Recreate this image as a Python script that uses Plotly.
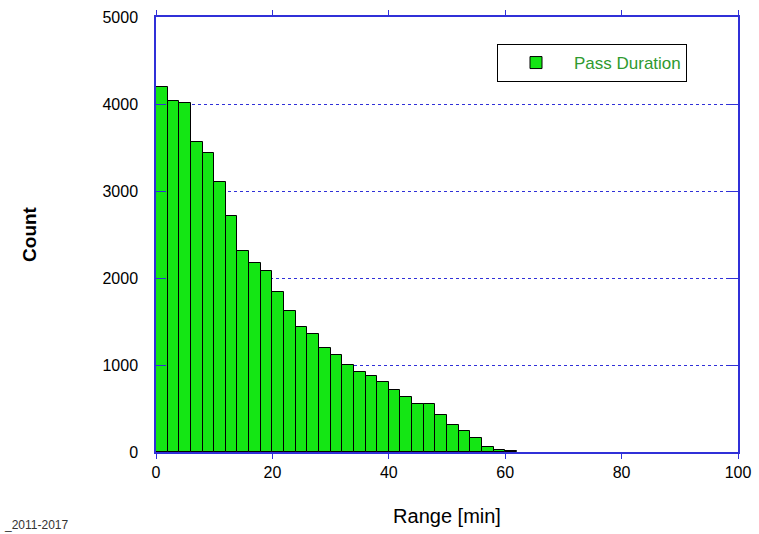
import plotly.graph_objects as go

bin_centers = [1, 3, 5, 7, 9, 11, 13, 15, 17, 19, 21, 23, 25, 27, 29, 31,
               33, 35, 37, 39, 41, 43, 45, 47, 49, 51, 53, 55, 57, 59, 61]
counts = [4195, 4035, 4010, 3565, 3440, 3105, 2715, 2310, 2175, 2080, 1835,
          1615, 1435, 1355, 1200, 1110, 1005, 925, 878, 808, 713, 628, 550,
          550, 422, 310, 245, 157, 62, 23, 8]
series_name = "Pass Duration"
x_ticks = [0, 20, 40, 60, 80, 100]
y_ticks = [0, 1000, 2000, 3000, 4000, 5000]

blue = "#3030d8"
PW, PH = 582, 435

fig = go.Figure()
fig.add_trace(go.Bar(
    x=bin_centers, y=counts, width=2, name=series_name,
    marker=dict(color="#14e614", line=dict(color="black", width=1)),
    showlegend=True,
))

fig.update_layout(
    width=759, height=534,
    margin=dict(l=156, r=21, t=17, b=82, autoexpand=False),
    paper_bgcolor="white", plot_bgcolor="white",
    font=dict(family="Liberation Sans, Arial, sans-serif", color="black"),
    bargap=0,
    showlegend=True,
    legend=dict(
        x=(497 - 156) / PW, y=(452 - 44) / PH, xanchor="left", yanchor="top",
        bgcolor="white", bordercolor="black", borderwidth=1,
        font=dict(size=17, color="#2f9a2f"),
        itemwidth=66,
    ),
    xaxis=dict(
        range=[0, 100], tickvals=x_ticks, ticks="outside", ticklen=5,
        tickcolor=blue, showline=True, linecolor=blue, linewidth=1.5,
        mirror="ticks", showgrid=False, zeroline=False, automargin=False,
        tickfont=dict(size=16),
        title=dict(text="Range [min]", font=dict(size=20), standoff=29),
    ),
    yaxis=dict(
        range=[0, 5000], tickvals=y_ticks, ticks="inside", ticklen=10,
        tickcolor=blue, showline=True, linecolor=blue, linewidth=1.5,
        mirror="ticks", showgrid=True, gridcolor=blue, griddash="dot",
        gridwidth=1, zeroline=False, automargin=False,
        tickfont=dict(size=16), ticklabelstandoff=13,
        title=dict(text="<b>Count</b>", font=dict(size=19), standoff=61),
    ),
    annotations=[dict(
        text="_2011-2017", xref="paper", yref="paper",
        x=-154 / PW, y=-73 / PH, xanchor="left", yanchor="middle",
        showarrow=False, font=dict(size=12, color="#333333"),
    )],
)

fig.write_html("out.html", config={"displayModeBar": False},
               post_script="document.body.style.margin='0';")
